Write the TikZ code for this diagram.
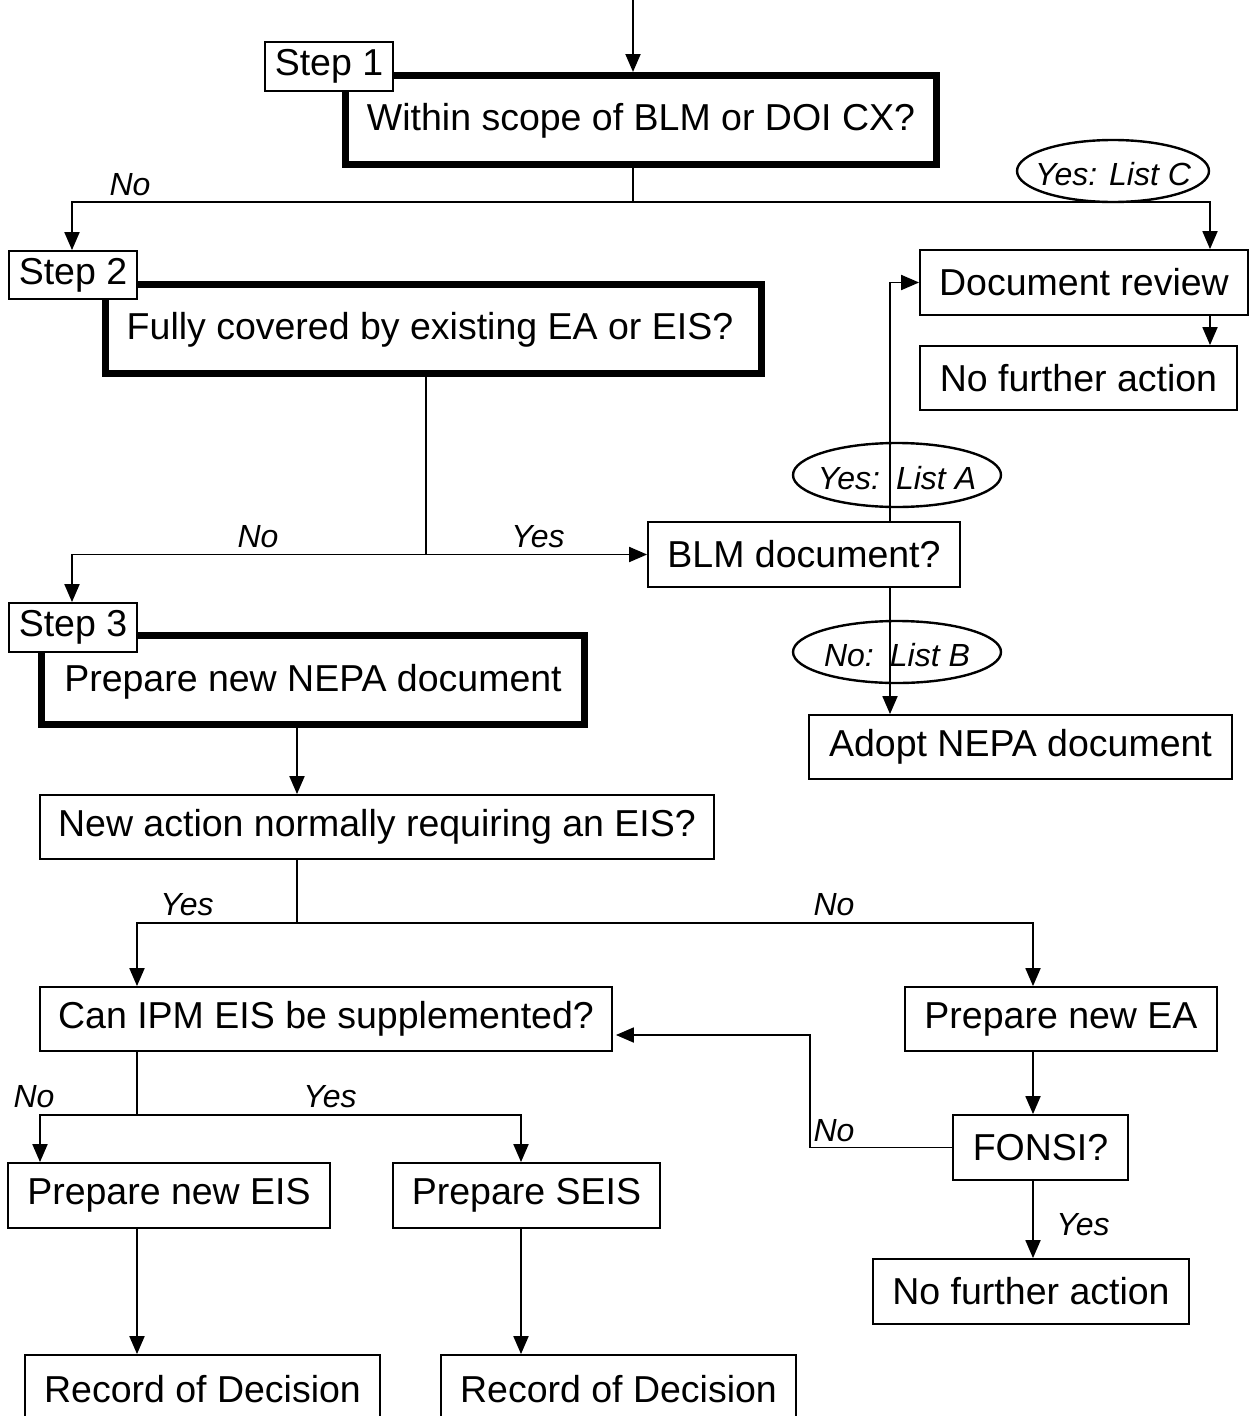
\documentclass[tikz,border=0pt]{standalone}
\usepackage{fontspec}
\setmainfont{Liberation Sans}
\usetikzlibrary{arrows.meta,shapes.geometric,calc}
\begin{document}
\begin{tikzpicture}[x=1pt,y=-1pt,
  box/.style={draw, line width=1.8pt, fill=white, inner sep=0pt, font=\fontsize{37.5}{40}\selectfont},
  thickbox/.style={draw, line width=7pt, fill=white, inner sep=0pt},
  boxtext/.style={inner sep=0pt, font=\fontsize{37.5}{40}\selectfont},
  lbl/.style={font=\fontsize{32}{34}\selectfont\itshape, inner sep=0pt},
  oval/.style={ellipse, draw, line width=2.4pt, inner sep=0pt},
  conn/.style={line width=1.9pt},
  arr/.style={conn, -{Triangle[length=18pt,width=15pt]}}]
\clip (0,0) rectangle (1252,1416);
\fill[white] (0,0) rectangle (1252,1416);
% column coordinates
\coordinate (top) at (633,0);
\coordinate (c1210) at (1210,0);
\coordinate (c890) at (890,0);
\coordinate (c297) at (297,0);
\coordinate (c137) at (137,0);
\coordinate (c1033) at (1033,0);
\coordinate (c40) at (40,0);
\coordinate (c521) at (521,0);
\coordinate (c72) at (72,0);
\coordinate (j1) at (633,202);
\coordinate (j2) at (426,554.5);
\coordinate (j3) at (297,923);
\coordinate (j4) at (137,1115);
\coordinate (k) at (810,1035);

% thick boxes
\node[thickbox, minimum width=591pt, minimum height=89pt] (b1) at (641,120) {};
\node[boxtext] (t1) at (641,121) {Within scope of BLM or DOI CX?};
\node[thickbox, minimum width=656pt, minimum height=89pt] (b2) at (433.5,329) {};
\node[boxtext] (t2) at (430,330) {Fully covered by existing EA or EIS?};
\node[thickbox, minimum width=543pt, minimum height=89pt] (b3) at (313,680) {};
\node[boxtext] (t3) at (313,682) {Prepare new NEPA document};
\foreach \b in {b1,b2,b3}{
  \draw[white, line width=1.4pt] ([shift={(3.5,1.6)}]\b.south west) -- ([shift={(1.6,1.6)}]\b.south east) -- ([shift={(1.6,3.5)}]\b.north east);
}

% step labels
\node[box, minimum width=128pt, minimum height=49pt] (s1) at (329,66.5) {Step 1};
\node[box, minimum width=128pt, minimum height=48pt] (s2) at (73,275) {Step 2};
\node[box, minimum width=128pt, minimum height=49pt] (s3) at (73,627.5) {Step 3};

% other boxes
\node[box, minimum width=328pt, minimum height=65pt] (docrev) at (1084,282.5) {Document review};
\node[box, minimum width=317pt, minimum height=64pt] (nfa1) at (1078.5,378) {No further action};
\node[box, minimum width=312pt, minimum height=65pt] (blm) at (804,554.5) {BLM document?};
\node[box, minimum width=423pt, minimum height=64pt] (adopt) at (1020.5,747) {Adopt NEPA document};
\node[box, minimum width=674pt, minimum height=64pt] (newact) at (377,827) {New action normally requiring an EIS?};
\node[box, minimum width=572pt, minimum height=64pt] (canipm) at (326,1019) {Can IPM EIS be supplemented?};
\node[box, minimum width=312pt, minimum height=64pt] (newea) at (1061,1019) {Prepare new EA};
\node[box, minimum width=175pt, minimum height=65pt] (fonsi) at (1040.5,1147.5) {FONSI?};
\node[box, minimum width=316pt, minimum height=65pt] (nfa2) at (1031,1291.5) {No further action};
\node[box, minimum width=322pt, minimum height=65pt] (neweis) at (169,1195.5) {Prepare new EIS};
\node[box, minimum width=267pt, minimum height=65pt] (seis) at (526.5,1195.5) {Prepare SEIS};
\node[box, minimum width=355pt, minimum height=68pt] (rod1) at (202.5,1389) {Record of Decision};
\node[box, minimum width=355pt, minimum height=68pt] (rod2) at (618.5,1389) {Record of Decision};

% connectors
\draw[arr] (top) -- (top |- b1.north);
\draw[conn] (j1 |- b1.south) -- (j1);
\draw[arr] (j1) -| (c72 |- s2.north);
\draw[arr] (j1) -| (c1210 |- docrev.north);
\draw[arr] (c1210 |- docrev.south) -- (c1210 |- nfa1.north);
\draw[conn] (j2 |- b2.south) -- (j2);
\draw[arr] (j2) -| (c72 |- s3.north);
\draw[arr] (j2) -- (blm.west);
\draw[arr] (c890 |- blm.north) |- (docrev.west);
\draw[arr] (c890 |- blm.south) -- (c890 |- adopt.north);
\draw[arr] (c297 |- b3.south) -- (c297 |- newact.north);
\draw[conn] (j3 |- newact.south) -- (j3);
\draw[arr] (j3) -| (c137 |- canipm.north);
\draw[arr] (j3) -| (c1033 |- newea.north);
\draw[arr] (c1033 |- newea.south) -- (c1033 |- fonsi.north);
\draw[arr] (fonsi.west) -| (k) -- ([xshift=3pt]k -| canipm.east);
\draw[arr] (c1033 |- fonsi.south) -- (c1033 |- nfa2.north);
\draw[conn] (j4 |- canipm.south) -- (j4);
\draw[arr] (j4) -| (c40 |- neweis.north);
\draw[arr] (j4) -| (c521 |- seis.north);
\draw[arr] (c137 |- neweis.south) -- (c137 |- rod1.north);
\draw[arr] (c521 |- seis.south) -- (c521 |- rod2.north);

% ovals
\node[oval, minimum width=192pt, minimum height=62pt] (ovC) at (1113,171) {};
\node[lbl] (tC) at (1113,174) {Yes: List C};
\node[oval, minimum width=208pt, minimum height=64pt] (ovA) at (897,475) {};
\node[lbl] (tA) at (897,478) {Yes:\hspace{0.5em}List A};
\node[oval, minimum width=208pt, minimum height=62pt] (ovB) at (897,652) {};
\node[lbl] (tB) at (897,655) {No:\hspace{0.5em}List B};

% labels
\node[lbl] (l1) at (130,185) {No};
\node[lbl] (l2) at (258,537) {No};
\node[lbl] (l3) at (538,537) {Yes};
\node[lbl] (l4) at (187,905) {Yes};
\node[lbl] (l5) at (834,905) {No};
\node[lbl] (l6) at (34,1097) {No};
\node[lbl] (l7) at (330,1097) {Yes};
\node[lbl] (l8) at (834,1131) {No};
\node[lbl] (l9) at (1083,1225) {Yes};
\end{tikzpicture}
\end{document}
